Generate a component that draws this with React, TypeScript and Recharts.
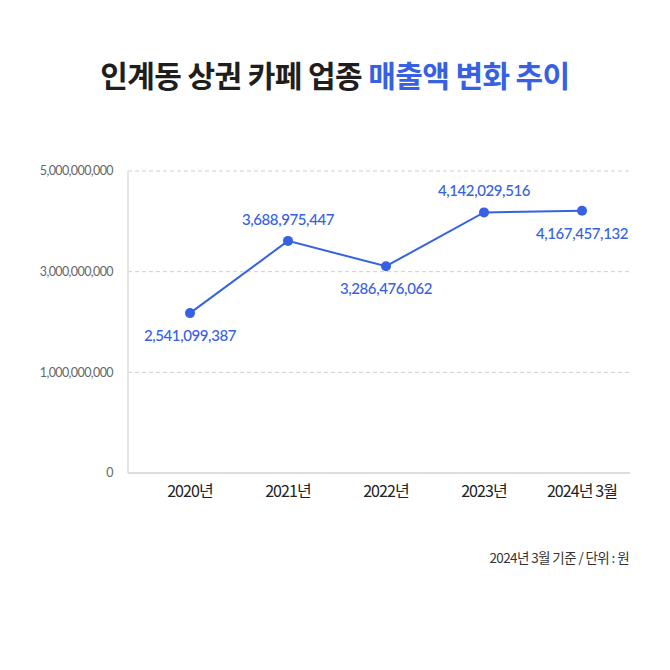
import React from 'react';
import { LineChart, Line, XAxis, YAxis, CartesianGrid, LabelList } from 'recharts';

const years = ['2020년', '2021년', '2022년', '2023년', '2024년 3월'];
const sales = [2541099387, 3688975447, 3286476062, 4142029516, 4167457132];

// the source chart spaces its grid evenly but labels it 0 / 1B / 3B / 5B
const yTicks = [0, 1.6e9, 3.2e9, 4.8e9];
const yTickLabels = ['0', '1,000,000,000', '3,000,000,000', '5,000,000,000'];

// where each value label sits relative to its dot
const labelSide = ['below', 'above', 'below', 'above', 'below'];

const data = years.map((year, i) => ({ year, sales: sales[i] }));

const BLUE = '#3661e3';

const ValueLabel = (props: any) => {
  const { x, y, value, index } = props;
  const dy = labelSide[index] === 'above' ? -22 : 22;
  return (
    <text
      x={x}
      y={y + dy}
      textAnchor="middle"
      dominantBaseline="central"
      fill={BLUE}
      fontSize={15}
      fontFamily="Lato, sans-serif"
      fontWeight={500}
      letterSpacing={-0.4}
    >
      {Number(value).toLocaleString('en-US')}
    </text>
  );
};

const App = () => {
  return (
    <div style={{ position: 'absolute', top: 0, left: 0, width: 670, height: 670, background: '#fff', fontFamily: '"Noto Sans CJK KR", sans-serif' }}>
      <div style={{ position: 'absolute', top: 52, left: 0, width: 670, textAlign: 'center', fontSize: 30, fontWeight: 700, color: '#1e1e1e', letterSpacing: -0.6 }}>
        인계동 상권 카페 업종 <span style={{ color: BLUE }}>매출액 변화 추이</span>
      </div>
      <div style={{ position: 'absolute', top: 0, left: 0 }}>
        <LineChart width={670} height={530} data={data} margin={{ top: 171, right: 40, left: 8, bottom: 27 }}>
          <CartesianGrid vertical={false} strokeDasharray="4 3" stroke="#cfcfcf" horizontalValues={[1.6e9, 3.2e9, 4.8e9]} />
          <XAxis
            dataKey="year"
            padding={{ left: 62, right: 48 }}
            tickLine={false}
            tickSize={0}
            tickMargin={13}
            height={30}
            axisLine={{ stroke: '#dddddd', strokeWidth: 2 }}
            tick={{ fill: '#222', fontSize: 16, fontFamily: '"Noto Sans CJK KR", sans-serif', letterSpacing: -0.9 }}
          />
          <YAxis
            width={120}
            domain={[0, 4.8e9]}
            ticks={yTicks}
            tickFormatter={(v: number) => yTickLabels[yTicks.indexOf(v)]}
            tickLine={false}
            tickSize={0}
            tickMargin={15}
            axisLine={{ stroke: '#dddddd', strokeWidth: 1.5 }}
            tick={{ fill: '#666', fontSize: 12.5, fontFamily: 'Lato, sans-serif', letterSpacing: -0.6 }}
          />
          <Line
            type="linear"
            dataKey="sales"
            stroke={BLUE}
            strokeWidth={2}
            dot={{ r: 5, fill: BLUE, stroke: BLUE, strokeWidth: 0 }}
            isAnimationActive={false}
          >
            <LabelList dataKey="sales" content={ValueLabel} />
          </Line>
        </LineChart>
      </div>
      <div style={{ position: 'absolute', top: 547, right: 41, fontSize: 13.5, color: '#333', letterSpacing: -0.6 }}>
        2024년 3월 기준 / 단위 : 원
      </div>
    </div>
  );
};

export default App;
